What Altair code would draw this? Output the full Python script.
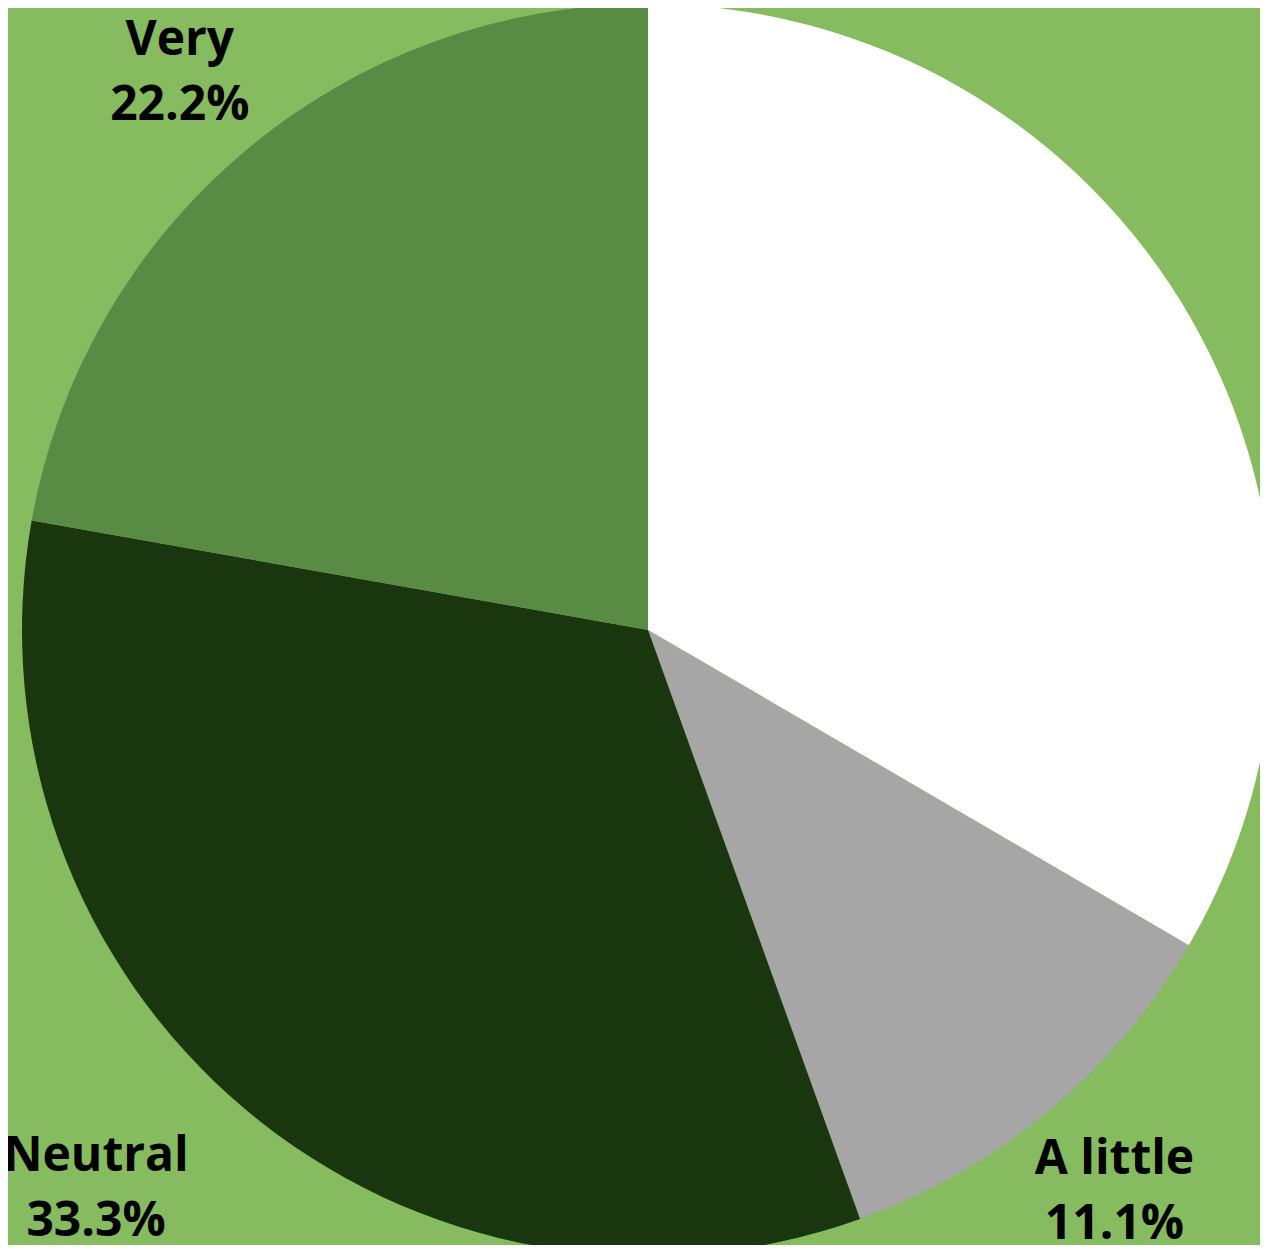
import altair as alt
import pandas as pd

categories = ["Extremely", "A little", "Neutral", "Very"]
percents = [33.4, 11.1, 33.3, 22.2]
show_label = [False, True, True, True]
colors = ["#FFFFFF", "#A6A6A6", "#1A360F", "#598B45"]

df = pd.DataFrame({
    "category": categories,
    "value": percents,
    "idx": list(range(len(categories))),
})
df["label"] = [f"{c}\n{p:.1f}%" if s else "" for c, p, s in zip(categories, percents, show_label)]
df["label_main"] = [l if c != "Neutral" else "" for c, l in zip(categories, df["label"])]
df["label_neutral"] = [l if c == "Neutral" else "" for c, l in zip(categories, df["label"])]

CX, CY = 640, 622

base = alt.Chart(df).encode(
    theta=alt.Theta("value:Q", stack=True),
    order=alt.Order("idx:Q"),
    x=alt.value(CX),
    y=alt.value(CY),
)

pie = base.mark_arc(stroke=None).encode(
    radius=alt.value(626),
    color=alt.Color("category:N", scale=alt.Scale(domain=categories, range=colors), legend=None),
)

txt_kwargs = dict(font="Open Sans", fontWeight="bold", fontSize=48, lineBreak="\n",
                  lineHeight=65, align="center", baseline="middle", color="#000000", dy=-30)

labels = base.mark_text(**txt_kwargs).encode(
    radius=alt.value(729),
    text="label_main:N",
)
labels_neutral = base.mark_text(dx=-82, **txt_kwargs).encode(
    radius=alt.value(729),
    text="label_neutral:N",
)

chart = alt.layer(pie, labels, labels_neutral).properties(
    width=1252, height=1237, autosize="none", padding=0, background="#86BC5F"
).configure_view(stroke=None)

chart.save("out.html", embed_options={"renderer": "svg", "actions": False})
